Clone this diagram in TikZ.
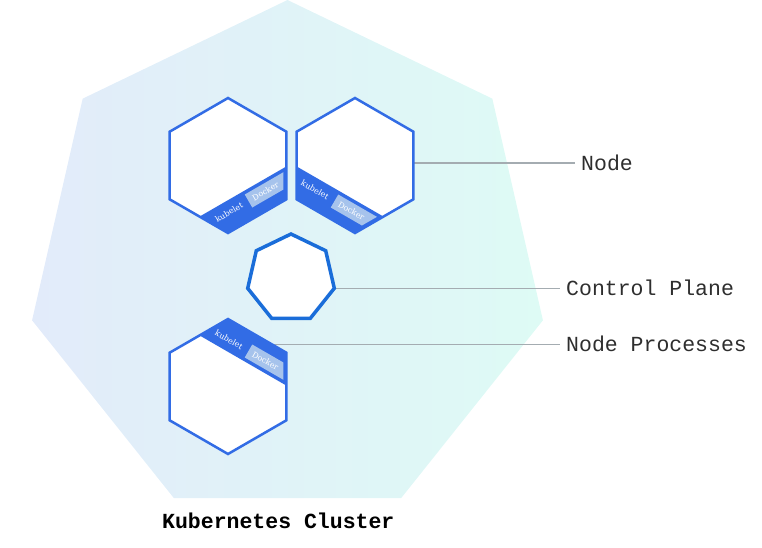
\documentclass[tikz,border=0pt]{standalone}
\usepackage{fontspec}
\newfontfamily\monofont{Liberation Mono}
\newfontfamily\slabfont{DejaVu Serif}
\usetikzlibrary{shapes.geometric,backgrounds}
\definecolor{kblue}{HTML}{326CE5}
\definecolor{cpblue}{HTML}{1A6DD9}
\definecolor{dockerbox}{HTML}{A6C3EC}
\definecolor{clleft}{HTML}{E2EBFA}
\definecolor{clright}{HTML}{DEFBF5}
\definecolor{leadergray}{HTML}{A4ACB1}
\definecolor{labeltext}{HTML}{2E2E2E}
\begin{document}
\begin{tikzpicture}[x=1pt,y=1pt,
  hexnode/.style={regular polygon, regular polygon sides=6, shape border rotate=30,
    minimum size=135pt, inner sep=0pt, outer sep=0pt, draw=kblue, fill=white, line width=2.5pt},
  cpnode/.style={regular polygon, regular polygon sides=7, minimum size=88.8pt,
    inner sep=0pt, outer sep=0pt, draw=cpblue, fill=white, line width=3.5pt},
  band/.style={fill=kblue},
  dbox/.style={fill=dockerbox},
  proc/.style={text=white, font=\slabfont\fontsize{8}{9}\selectfont, inner sep=0pt, anchor=base, transform shape},
  leader/.style={draw=leadergray, line width=1.5pt},
  lbl/.style={font=\monofont\fontsize{21.5}{24}\selectfont, text=labeltext, anchor=west, inner xsep=6pt, inner ysep=0pt},
  title/.style={font=\monofont\bfseries\fontsize{21.5}{24}\selectfont, text=black, inner sep=0pt}
]
\useasboundingbox (0,0) rectangle (762,-547);

% hexagon nodes
\node[hexnode] (hex1) at (228,-165.5) {};
\node[hexnode] (hex2) at (355,-165.5) {};
\node[hexnode] (hex3) at (228,-386.5) {};

% bands
\begin{scope}[shift={(228,-165.5)}, rotate=30]
  \fill[band] (-50.18,-30) -- (50.18,-30) -- (33.75,-58.46) -- (-33.75,-58.46) -- cycle;
  \fill[dbox] (0,-33.5) -- (44.7,-33.5) -- (36,-48.5) -- (0,-48.5) -- cycle;
  \node[proc] (kub1) at (-22.5,-44) {kubelet};
  \node[proc] (doc1) at (19.5,-44) {Docker};
\end{scope}
\begin{scope}[shift={(355,-165.5)}, rotate=-30]
  \fill[band] (-50.18,-30) -- (50.18,-30) -- (33.75,-58.46) -- (-33.75,-58.46) -- cycle;
  \fill[dbox] (0,-33.5) -- (44.7,-33.5) -- (36,-48.5) -- (0,-48.5) -- cycle;
  \node[proc] (kub2) at (-22.5,-44) {kubelet};
  \node[proc] (doc2) at (19.5,-44) {Docker};
\end{scope}
\begin{scope}[shift={(228,-386.5)}, rotate=-30]
  \fill[band] (-50.18,30) -- (50.18,30) -- (33.75,58.46) -- (-33.75,58.46) -- cycle;
  \fill[dbox] (0,33.5) -- (44.7,33.5) -- (36,48.5) -- (0,48.5) -- cycle;
  \node[proc] (kub3) at (-22.5,38) {kubelet};
  \node[proc] (doc3) at (19.5,38) {Docker};
\end{scope}

% control plane
\node[cpnode] (cp) at (291,-278.4) {};

% labels
\node[lbl] (nodelbl) at (575,-163) {Node};
\node[lbl] (cplbl) at (560,-288.3) {Control Plane};
\node[lbl] (proclbl) at (560,-343.5) {Node Processes};
\node[title] (cltitle) at (278.3,-521) {Kubernetes Cluster};

\begin{pgfonlayer}{background}
  \node[regular polygon, regular polygon sides=7, minimum size=524pt, inner sep=0pt,
    outer sep=0pt, left color=clleft, right color=clright, draw=none] (cluster) at (287.5,-262) {};
  \draw[leader] (hex2.0 |- nodelbl.west) -- (nodelbl.west);
  \draw[leader] (cp.corner 6) -- (cplbl.west |- cp.corner 6);
  \draw[leader] (hex3.44.5) -- (proclbl.west |- hex3.44.5);
\end{pgfonlayer}
\end{tikzpicture}
\end{document}
